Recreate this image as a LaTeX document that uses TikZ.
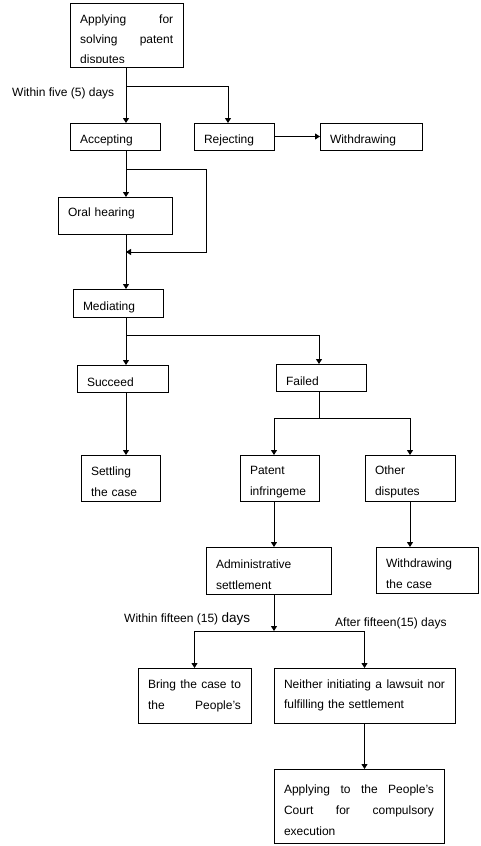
\documentclass[tikz,border=0pt]{standalone}
\usepackage{fontspec}
\setmainfont{Liberation Sans}
\usetikzlibrary{arrows.meta}

\tikzset{
	box/.style={draw, thick, anchor=north west, inner xsep=10pt, inner ysep=0pt, outer sep=0pt, align=left, text height=17pt, font=\fontsize{12}{21}\selectfont},
	lab/.style={anchor=base west, inner sep=0pt, font=\fontsize{12}{14}\selectfont},
	link/.style={thick, ->}
}

\begin{document}
\begin{tikzpicture}[x=1pt, y=-1pt, >={Triangle[width=6pt,length=5pt]}, thick/.style={line width=1pt}]
	\useasboundingbox (0,0) rectangle (481,846);
	\coordinate (col) at (126,0);
	\coordinate (col2) at (274,0);
	
	% boxes
	\node[box, text width=93pt, minimum height=64pt] (apply) at (70,3) {};
	\begin{scope}
		\clip (apply.north west) rectangle ([yshift=4.5pt]apply.south east);
		\node[anchor=north west, inner sep=0pt, text width=93pt, align=left, font=\fontsize{12}{20}\selectfont] (applytext) at (80,15) {Applying\hfill for\\ solving\hfill patent\\ disputes};
	\end{scope}
	\node[box, text width=70pt, minimum height=27pt] (accept) at (70,123) {Accepting};
	\node[box, text width=60pt, minimum height=27pt] (reject) at (194,123) {Rejecting};
	\node[box, text width=82pt, minimum height=27pt] (withdraw) at (320,123) {Withdrawing};
	\node[box, text width=94pt, minimum height=37pt, text depth=15pt] (oral) at (58,197) {Oral hearing};
	\node[box, text width=70pt, minimum height=28pt] (mediate) at (73,289) {Mediating};
	\node[box, text width=71pt, minimum height=27pt] (succeed) at (77,365) {Succeed};
	\node[box, text width=70pt, minimum height=27pt] (failed) at (276,364) {Failed};
	\node[box, text width=59pt, minimum height=46pt] (settle) at (81,455) {Settling\\ the case};
	\node[box, text width=59pt, minimum height=46pt] (patent) at (240,455) {Patent\\ infringeme};
	\node[box, text width=70pt, minimum height=46pt] (other) at (365,455) {Other\\ disputes};
	\node[box, text width=105pt, minimum height=47pt] (admin) at (206,547) {Administrative\\ settlement};
	\node[box, text width=82pt, minimum height=46pt] (withdrawcase) at (376,547) {Withdrawing\\ the case};
	\node[box, text width=93pt, minimum height=55pt, text height=9pt] (bring) at (138,668) {Bring\hfill the\hfill case\hfill to\\ the\hfill People's};
	\node[box, text width=161pt, minimum height=55pt, text height=9pt, font=\fontsize{12}{20}\selectfont] (neither) at (274,668) {Neither\hfill initiating\hfill a\hfill lawsuit\hfill nor\\ fulfilling the settlement};
	\node[box, text width=150pt, minimum height=74pt] (court) at (274,769) {Applying\hfill to\hfill the\hfill People's\\ Court\hfill for\hfill compulsory\\ execution};
	
	% labels
	\node[lab] (within5) at (12,96) {Within five (5) days};
	\node[lab] (within15) at (124,622) {Within fifteen (15) {\fontsize{13.5}{14}\selectfont days}};
	\node[lab] (after15) at (335,626) {After fifteen(15) days};
	
	% forks
	\coordinate (F1) at (126,86);
	\coordinate (F2) at (126,169);
	\coordinate (B2) at (206,252);
	\coordinate (J2) at (126,252);
	\coordinate (F3) at (126,335);
	\coordinate (F4) at (319,418);
	\coordinate (F5) at (274,631);
	
	\draw[link] (apply.south -| col) -- (accept.north -| col);
	\draw[link] (F1) -| ([xshift=-6pt]reject.north);
	\draw[link] (reject.east) -- (withdraw.west);
	
	\draw[link] (accept.south -| col) -- (oral.north -| col);
	\draw[link] (F2) -| (B2) -- (J2);
	\draw[link] (oral.south -| col) -- (mediate.north -| col);
	
	\draw[link] (mediate.south -| col) -- (succeed.north -| col);
	\draw[link] (F3) -| ([xshift=-2pt]failed.north);
	\draw[link] (succeed.south -| col) -- (settle.north -| col);
	
	\draw[thick] (failed.south -| F4) -- (F4);
	\draw[link] (F4) -| (patent.north -| col2);
	\draw[link] (F4) -| (other.north);
	\draw[link] (patent.south -| col2) -- (admin.north -| col2);
	\draw[link] (other.south) -- (other.south |- withdrawcase.north);
	
	\draw[link] (admin.south -| col2) -- (F5);
	\draw[link] (F5) -| (bring.north);
	\draw[link] (F5) -| (neither.north);
	\draw[link] (neither.south) -- (neither.south |- court.north);
\end{tikzpicture}
\end{document}
